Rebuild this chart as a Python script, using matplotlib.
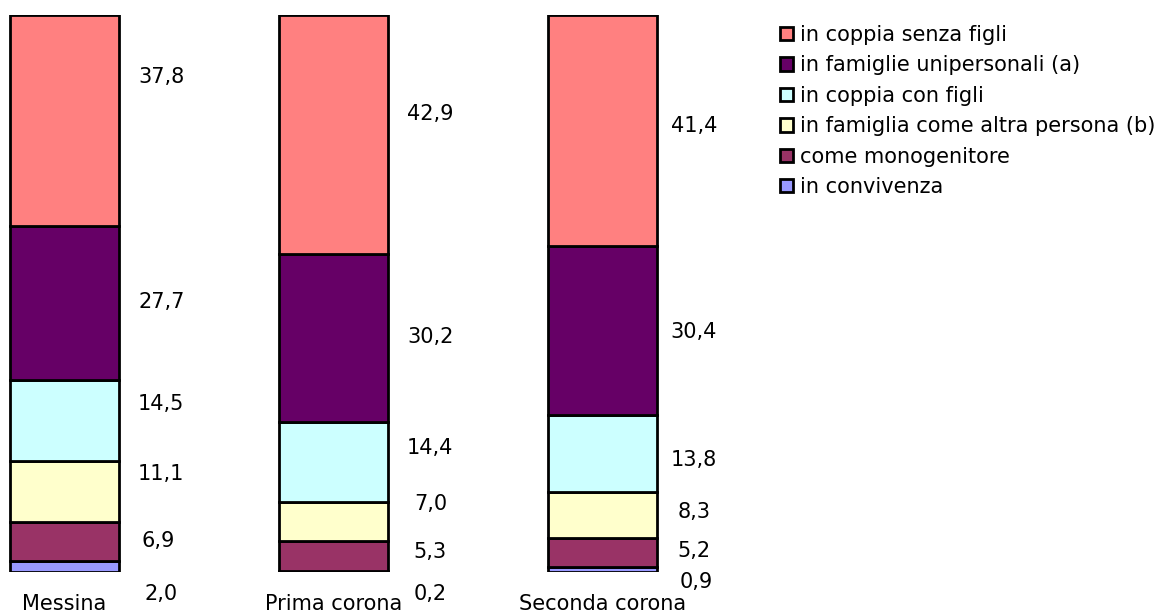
import matplotlib
matplotlib.use("Agg")
import matplotlib.pyplot as plt
from matplotlib.patches import Patch

plt.rcParams['font.family'] = ['DejaVu Sans']

categories = ["Messina", "Prima corona", "Seconda corona"]
series_names = [
    "in convivenza",
    "come monogenitore",
    "in famiglia come altra persona (b)",
    "in coppia con figli",
    "in famiglie unipersonali (a)",
    "in coppia senza figli",
]
in_convivenza = [2.0, 0.2, 0.9]
come_monogenitore = [6.9, 5.3, 5.2]
in_famiglia_altra = [11.1, 7.0, 8.3]
in_coppia_con_figli = [14.5, 14.4, 13.8]
in_famiglie_unipersonali = [27.7, 30.2, 30.4]
in_coppia_senza_figli = [37.8, 42.9, 41.4]
series = [in_convivenza, come_monogenitore, in_famiglia_altra,
          in_coppia_con_figli, in_famiglie_unipersonali, in_coppia_senza_figli]
colors = ["#9999FF", "#993366", "#FFFFCC", "#CCFFFF", "#660066", "#FF8080"]

# vertical placement of the value labels (data units), per category
label_y = [
    [-4.0, 5.6, 17.6, 30.2, 48.5, 88.9],
    [-4.0, 3.6, 12.2, 22.3, 42.2, 82.2],
    [-1.8, 3.8, 10.8, 20.1, 43.1, 80.1],
]
label_dx = [
    [0.36, 0.35, 0.36, 0.36, 0.36, 0.36],
    [0.36, 0.36, 0.36, 0.36, 0.36, 0.36],
    [0.35, 0.34, 0.34, 0.34, 0.34, 0.34],
]

W, H = 1171, 614
fig = plt.figure(figsize=(W / 100, H / 100), dpi=100)
y0, y1 = 572, 15
ax = fig.add_axes([0, (H - y0) / H, 1, (y0 - y1) / H])
step = 269.0
c0 = 64.5
ax.set_xlim(-c0 / step, (W - c0) / step)
ax.set_ylim(0, 100)
ax.axis("off")

x = list(range(len(categories)))
bottom = [0.0] * len(categories)
for vals, col in zip(series, colors):
    ax.bar(x, vals, width=109 / step, bottom=bottom, color=col,
           edgecolor="black", linewidth=2.0, zorder=2)
    bottom = [b + v for b, v in zip(bottom, vals)]

fs = 15
for i in x:
    for j, vals in enumerate(series):
        txt = f"{vals[i]:.1f}".replace(".", ",")
        ax.text(i + label_dx[i][j], label_y[i][j], txt, ha="center",
                va="center", fontsize=fs, color="black", clip_on=False)
    ax.text(i, -5.8, categories[i], ha="center", va="center",
            fontsize=fs, color="black", clip_on=False)

handles = [Patch(facecolor=c, edgecolor="black", linewidth=2.0)
           for c in colors[::-1]]
fig.legend(handles, series_names[::-1], loc="upper left",
           bbox_to_anchor=(780 / W, 1 - 25 / H), frameon=False,
           fontsize=fs, handlelength=0.6, handleheight=0.6,
           handletextpad=0.35, labelspacing=0.5, borderpad=0,
           borderaxespad=0)

fig.savefig("out.png", dpi=100)
